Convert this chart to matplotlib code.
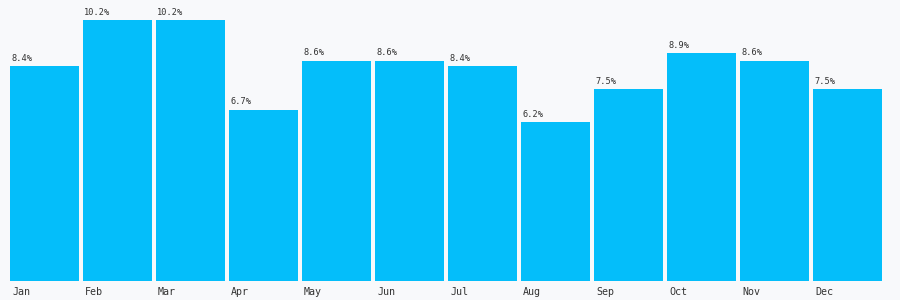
import numpy as np
import matplotlib
matplotlib.use("Agg")
import matplotlib.pyplot as plt

months = ["Jan", "Feb", "Mar", "Apr", "May", "Jun",
          "Jul", "Aug", "Sep", "Oct", "Nov", "Dec"]
values = [8.4, 10.2, 10.2, 6.7, 8.6, 8.6, 8.4, 6.2, 7.5, 8.9, 8.6, 7.5]

bg = "#f8f9fb"
bar_color = "#04befa"
text_color = "#333333"

fig = plt.figure(figsize=(9, 3), dpi=100, facecolor=bg)
# axes box: bars span x 10..882 px, baseline at y=281, top (10.2) at y=20
ax = fig.add_axes([10 / 900, 19 / 300, 872 / 900, 261 / 300])
ax.set_facecolor(bg)

width = 69 / 73
x = np.arange(len(months))
ax.bar(x, values, width=width, align="edge", color=bar_color, linewidth=0)

for xi, v, m in zip(x, values, months):
    ax.annotate(f"{v}%", (xi, v), xytext=(1, 2.5), textcoords="offset points",
                ha="left", va="bottom", fontsize=6.2,
                family="DejaVu Sans Mono", color=text_color)
    ax.annotate(m, (xi, 0), xytext=(1.5, -8), textcoords="offset points",
                ha="left", va="center", fontsize=7.2,
                family="DejaVu Sans Mono", color=text_color,
                annotation_clip=False)

ax.set_xlim(0, len(months) - 1 + width)
ax.set_ylim(0, 10.2)
ax.axis("off")

fig.savefig("out.png", dpi=100, facecolor=bg)
